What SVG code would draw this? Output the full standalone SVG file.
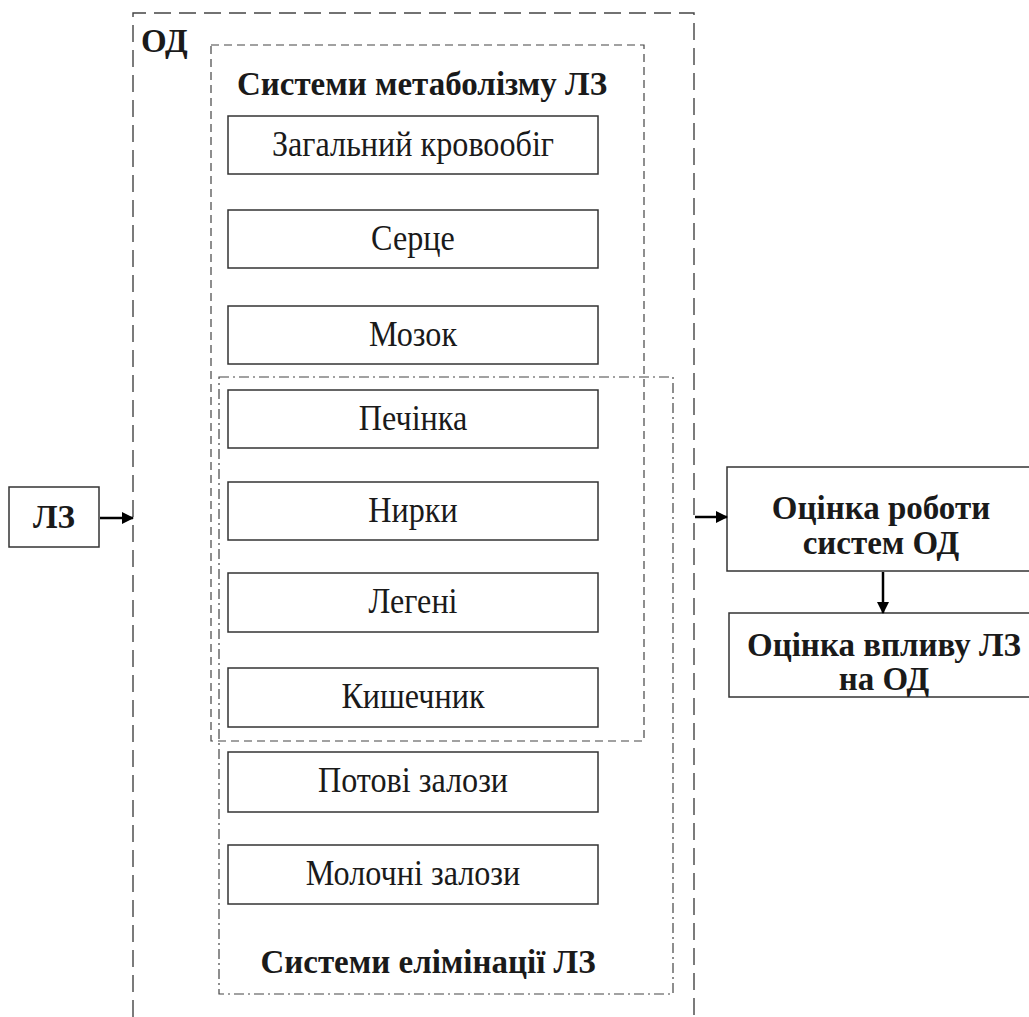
<svg xmlns="http://www.w3.org/2000/svg" width="1029" height="1017" viewBox="0 0 1029 1017">
<style>
.box{fill:#fff;stroke:#333;stroke-width:1.5}
.t{font-family:"Liberation Serif","Times New Roman",serif;font-size:35px;fill:#1a1a1a;text-anchor:middle}
.b{font-family:"Liberation Serif","Times New Roman",serif;font-size:33px;font-weight:bold;fill:#1a1a1a;text-anchor:middle}
.outer{fill:none;stroke:#444;stroke-width:1.4;stroke-dasharray:17 8}
.met{fill:none;stroke:#444;stroke-width:1.2;stroke-dasharray:8 5}
.eli{fill:none;stroke:#444;stroke-width:1.2;stroke-dasharray:10 4 2 4}
.conn{stroke:#000;stroke-width:2.5;fill:none}
</style>
<defs>
<marker id="ah" markerWidth="12" markerHeight="12" refX="11" refY="6" orient="auto" markerUnits="userSpaceOnUse">
<path d="M0,0 L12,6 L0,12 Z" fill="#000"/>
</marker>
</defs>
<g id="od">
<path class="outer" d="M133,1017 L133,13 L694,13 L694,1017"/>
<text class="b" x="141" y="52" style="text-anchor:start">ОД</text>
</g>
<g id="metabolism">
<rect class="met" x="211" y="45" width="433" height="696"/>
<text class="b" x="422" y="95">Системи метаболізму ЛЗ</text>
</g>
<g id="elimination">
<rect class="eli" x="219" y="377" width="454" height="617"/>
<text class="b" x="428" y="973">Системи елімінації ЛЗ</text>
</g>
<g id="n1"><rect class="box" x="228" y="116" width="370" height="58"/><text class="t" transform="translate(413,156) scale(0.92,1)">Загальний кровообіг</text></g>
<g id="n2"><rect class="box" x="228" y="210" width="370" height="58"/><text class="t" transform="translate(413,250) scale(0.92,1)">Серце</text></g>
<g id="n3"><rect class="box" x="228" y="306" width="370" height="58"/><text class="t" transform="translate(413,346) scale(0.92,1)">Мозок</text></g>
<g id="n4"><rect class="box" x="228" y="390" width="370" height="58"/><text class="t" transform="translate(413,430) scale(0.92,1)">Печінка</text></g>
<g id="n5"><rect class="box" x="228" y="482" width="370" height="58"/><text class="t" transform="translate(413,522) scale(0.92,1)">Нирки</text></g>
<g id="n6"><rect class="box" x="228" y="573" width="370" height="59"/><text class="t" transform="translate(413,613) scale(0.92,1)">Легені</text></g>
<g id="n7"><rect class="box" x="228" y="668" width="370" height="59"/><text class="t" transform="translate(413,708) scale(0.92,1)">Кишечник</text></g>
<g id="n8"><rect class="box" x="228" y="752" width="370" height="60"/><text class="t" transform="translate(413,792) scale(0.92,1)">Потові залози</text></g>
<g id="n9"><rect class="box" x="228" y="845" width="370" height="59"/><text class="t" transform="translate(413,885) scale(0.92,1)">Молочні залози</text></g>
<g id="lz"><rect class="box" x="9" y="487" width="90" height="60"/><text class="b" x="54" y="528">ЛЗ</text></g>
<g id="eval1"><rect class="box" x="727" y="467" width="310" height="104"/><text class="b" x="881" y="519">Оцінка роботи</text><text class="b" x="881" y="554">систем ОД</text></g>
<g id="eval2"><rect class="box" x="729" y="613" width="310" height="84"/><text class="b" x="884" y="656">Оцінка впливу ЛЗ</text><text class="b" x="884" y="690">на ОД</text></g>
<g id="connectors">
<line class="conn" x1="100" y1="518" x2="133" y2="518" marker-end="url(#ah)"/>
<line class="conn" x1="695" y1="517" x2="727" y2="517" marker-end="url(#ah)"/>
<line class="conn" x1="883" y1="572" x2="883" y2="613" marker-end="url(#ah)"/>
</g>
</svg>
